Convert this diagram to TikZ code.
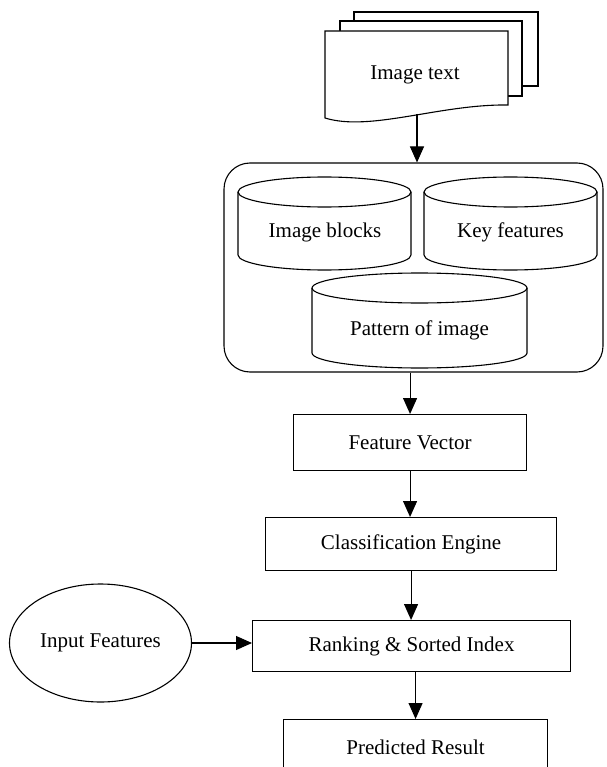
\documentclass[tikz,border=0pt]{standalone}
\usepackage{fontspec}
\setmainfont{Liberation Serif}
\usetikzlibrary{arrows.meta,shapes.geometric}
\newcommand\mycyl[4]{%
  \draw[line width=1.1pt,fill=white] (#1,#2) ellipse [x radius=#4, y radius=15];
  \draw[line width=1.1pt] (#1-#4,#2) -- (#1-#4,#3) arc[start angle=180, end angle=0, x radius=#4, y radius=15] -- (#1+#4,#2);
}
\tikzset{
  lbl/.style={font=\fontsize{21}{24}\selectfont, inner sep=0pt},
  procbox/.style={draw, line width=1.1pt, lbl, anchor=north west},
  arr/.style={line width=1.1pt, -{Triangle[length=16pt,width=14pt]}},
  sheet/.style={draw, line width=1.1pt, fill=white}
}
\begin{document}
\begin{tikzpicture}[x=1pt,y=-1pt]
\useasboundingbox (0,0) rectangle (606,767);
\clip (0,0) rectangle (606,767);
% document stack
\draw[sheet] (354,12) rectangle (538,86);
\draw[sheet] (340,21) rectangle (522,96);
\draw[sheet] (325,31) -- (508,31) -- (508,105) .. controls (440,104) and (370,132) .. (325,118) -- cycle;
\node[lbl] (doc) at (415,75) {Image text};
\coordinate (docbot) at (417,114);
% container
\node[draw, line width=1.1pt, rounded corners=26pt, minimum width=379pt, minimum height=209pt, inner sep=0pt] (grp) at (413.5,267.5) {};
% cylinders
\mycyl{324.5}{192}{255}{86.5}
\mycyl{510.5}{192}{255}{86.5}
\mycyl{419.5}{288}{353}{107.5}
\node[lbl] (blocks) at (325,232) {Image blocks};
\node[lbl] (keyf) at (510.5,232) {Key features};
\node[lbl] (patt) at (419.5,330) {Pattern of image};
% process boxes
\node[procbox, minimum width=233pt, minimum height=56pt] (fv) at (293,414) {Feature Vector};
\node[procbox, minimum width=291pt, minimum height=53pt] (ce) at (265,517) {Classification Engine};
\node[procbox, minimum width=318pt, minimum height=51pt] (rank) at (252,620) {Ranking \& Sorted Index};
\node[procbox, minimum width=264pt, minimum height=56pt] (pred) at (283,719) {Predicted Result};
\node[draw, line width=1.1pt, ellipse, lbl, minimum width=182pt, minimum height=118pt] (inp) at (100.5,643) {Input Features};
% connectors
\draw[arr] (docbot) -- (docbot |- grp.north);
\draw[arr] (fv.north |- grp.south) -- (fv.north);
\draw[arr] (fv.south) -- (fv.south |- ce.north);
\draw[arr] (ce.south) -- (ce.south |- rank.north);
\draw[arr] (pred.north |- rank.south) -- (pred.north);
\draw[arr] (inp.east) -- (inp.east -| rank.west);
\end{tikzpicture}
\end{document}
